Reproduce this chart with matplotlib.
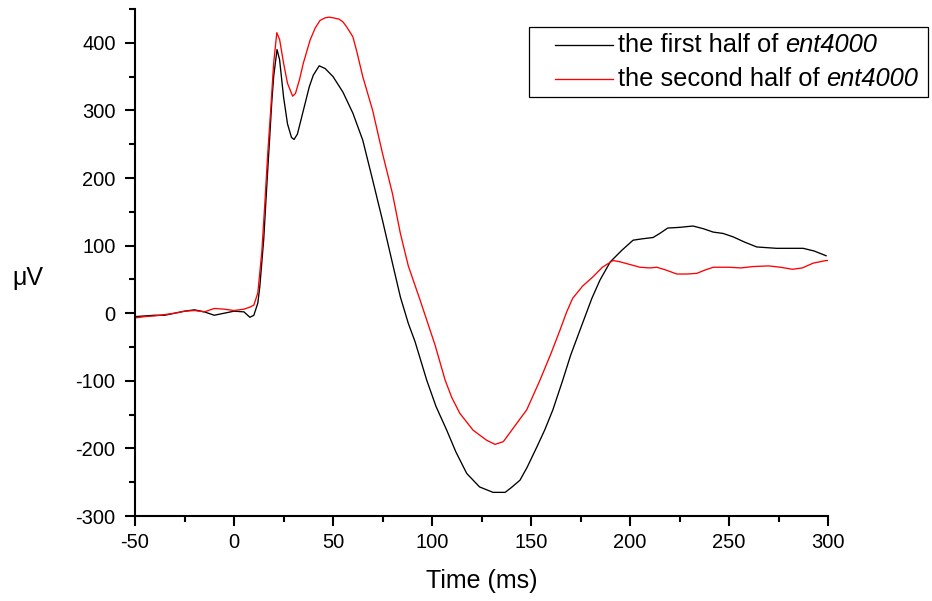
import numpy as np
import matplotlib
matplotlib.use('Agg')
import matplotlib.pyplot as plt
from matplotlib.ticker import MultipleLocator
from matplotlib.lines import Line2D
from matplotlib.offsetbox import (AnchoredOffsetbox, DrawingArea, HPacker,
                                  TextArea, VPacker)

plt.rcParams['font.family'] = ['Liberation Sans', 'DejaVu Sans']
plt.rcParams['axes.unicode_minus'] = False

# prima meta' di ent4000
tempo_prima = [-50, -45, -40, -35, -30, -25, -20, -15, -10, -5, 0, 5, 8, 10, 12, 13, 15, 16.5, 18, 19, 20,
               21.7, 23, 25, 27, 29, 30.3, 32, 35, 38, 40, 43, 46, 50, 55, 60, 65, 70, 75, 80, 84, 88, 91.4,
               97.3, 102, 107.4, 112, 117.5, 124, 130.8, 136.9, 140, 144.4, 148, 152.9, 157, 161, 166, 170,
               174.7, 180.7, 184.8, 190, 195.8, 201.5, 206, 211.6, 215, 219, 225, 231.8, 237, 242, 247, 252,
               258, 264, 269, 274, 280, 287.4, 293, 299]
uv_prima = [-5, -4, -3, -3, 0, 3, 5, 2, -3, 0, 3, 2, -6, -3, 15, 39, 110, 187, 260, 310, 350,
            390, 375, 320, 280, 260, 257, 265, 300, 335, 352, 366, 362, 350, 327, 296, 256, 197, 137, 74, 24, -15, -42,
            -99, -138, -173, -205, -237, -257, -265, -265, -258, -247, -228, -198, -172, -143, -99, -62,
            -25, 22, 49, 76, 93, 108, 110, 112, 118, 126, 127, 129, 125, 120, 118, 113,
            105, 98, 97, 96, 96, 96, 92, 85]

# seconda meta' di ent4000
tempo_seconda = [-50, -45, -40, -35, -30, -25, -20, -15, -10, -5, 0, 5, 8, 10, 12, 14, 15.5, 17, 18.5, 20,
                 21.6, 23, 25, 27, 29.6, 31, 33, 35, 38.4, 41, 43.4, 46, 48, 50, 53, 55, 57, 60, 62, 65,
                 70, 75, 80, 84, 88, 94, 101.5, 106.6, 110, 114, 120.7, 127.6, 131.8, 136, 138.5, 141, 144,
                 147.8, 151, 154.5, 160, 164.6, 168, 171, 176, 181.3, 186, 191.4, 195, 200, 205, 210, 213.5,
                 218, 223.6, 229, 233.7, 238, 242, 250, 256, 262, 270, 276, 282, 287, 292.4, 299, 300]
uv_seconda = [-7, -5, -4, -2, 0, 3, 4, 2, 7, 6, 4, 6, 9, 12, 30, 90, 160, 236, 300, 370,
              415, 405, 370, 340, 321, 325, 345, 370, 404, 422, 433, 437, 438, 437, 435, 431, 423, 409, 387, 350,
              300, 236, 177, 118, 70, 19, -47, -99, -125, -148, -173, -188, -194, -190, -180, -170, -158,
              -143, -122, -99, -60, -25, 2, 22, 40, 54, 68, 78, 76, 72, 68, 67, 68,
              64, 58, 58, 59, 64, 68, 68, 67, 69, 70, 68, 65, 67, 74, 78, 78]

etichette = ['the first half of', 'the second half of']
nome_file = 'ent4000'
colori = ['black', 'red']

fig = plt.figure(figsize=(9.32, 6.01), dpi=100)
ax = fig.add_axes([0.1449, 0.1414, 0.7436, 0.8436])

ax.plot(tempo_prima, uv_prima, color=colori[0], lw=0.95)
ax.plot(tempo_seconda, uv_seconda, color=colori[1], lw=0.95)

ax.set_xlim(-50, 300)
ax.set_ylim(-300, 450)
ax.xaxis.set_major_locator(MultipleLocator(50))
ax.xaxis.set_minor_locator(MultipleLocator(25))
ax.set_yticks(np.arange(-300, 401, 100))
ax.yaxis.set_minor_locator(MultipleLocator(50))
ax.set_ylim(-300, 450)

# solo assi sinistro e inferiore
ax.spines['top'].set_visible(False)
ax.spines['right'].set_visible(False)
ax.spines['left'].set_linewidth(1.5)
ax.spines['bottom'].set_linewidth(1.5)
ax.tick_params(which='major', direction='out', length=7, width=1.5, labelsize=14.5)
ax.tick_params(which='minor', direction='out', length=4.3, width=1.5)
ax.tick_params(axis='y', which='major', pad=7)
ax.tick_params(axis='x', which='major', pad=5)

ax.set_xlabel('Time (ms)', fontsize=18, va='center')
ax.xaxis.set_label_coords(0.5, -0.128)
ax.set_ylabel('μV', fontsize=18, rotation=0, ha='center', va='center')
ax.yaxis.set_label_coords(-0.154, 0.469)

# legenda costruita a mano (parte del testo in corsivo)
righe = []
for etichetta, colore in zip(etichette, colori):
    da = DrawingArea(56.5, 14, 0, 0)
    da.add_artist(Line2D([14.7, 56.5], [7, 7], color=colore, lw=0.95))
    testo = HPacker(children=[TextArea(etichetta, textprops=dict(fontsize=18.4)),
                              TextArea(nome_file, textprops=dict(fontsize=18.4, fontstyle='italic'))],
                    sep=5, align='baseline', pad=0)
    righe.append(HPacker(children=[da, testo], sep=3.5, align='center', pad=0))
box = VPacker(children=righe, sep=7.5, align='left', pad=0)
box = HPacker(children=[box, DrawingArea(3, 1, 0, 0)], sep=0, pad=0)
legenda = AnchoredOffsetbox(loc='upper right', child=box, pad=0.4, borderpad=0, frameon=True,
                            bbox_to_anchor=(928 / 932, 1 - 27 / 601), bbox_transform=fig.transFigure)
legenda.patch.set_edgecolor('black')
legenda.patch.set_linewidth(0.9)
legenda.patch.set_boxstyle('square', pad=0)
fig.add_artist(legenda)

plt.savefig('out.png', dpi=100)
